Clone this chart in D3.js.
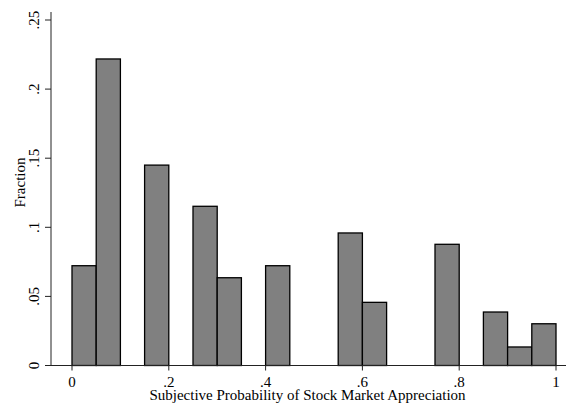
<!DOCTYPE html>
<html><head><meta charset="utf-8">
<script src="https://cdn.jsdelivr.net/npm/d3@7"></script>
<style>body{margin:0;background:#fff}svg{display:block}text{font-family:"Liberation Serif","Times New Roman",serif}</style>
</head><body>
<script>
const binStarts = [0, 0.05, 0.15, 0.25, 0.30, 0.40, 0.55, 0.60, 0.75, 0.85, 0.90, 0.95];
const fractions = [0.0722, 0.2218, 0.145, 0.1152, 0.0635, 0.0722, 0.0959, 0.0457, 0.0877, 0.0387, 0.0134, 0.0302];
const binWidth = 0.05;
const xTicks = [0, 0.2, 0.4, 0.6, 0.8, 1];
const xTickLabels = ["0", ".2", ".4", ".6", ".8", "1"];
const yTicks = [0, 0.05, 0.1, 0.15, 0.2, 0.25];
const yTickLabels = ["0", ".05", ".1", ".15", ".2", ".25"];

const W = 573, H = 405;
const svg = d3.select("body").append("svg").attr("width", W).attr("height", H);
const x = d3.scaleLinear().domain([0, 1]).range([72, 556]);
const y = d3.scaleLinear().domain([0, 0.25]).range([365.5, 20]);
const xAxisLeft = 51, xAxisRight = 566, yAxisTop = 12;

svg.append("g").selectAll("rect").data(binStarts).join("rect")
  .attr("x", (d) => x(d))
  .attr("width", (d) => x(d + binWidth) - x(d))
  .attr("y", (d, i) => y(fractions[i]))
  .attr("height", (d, i) => y(0) - y(fractions[i]))
  .attr("fill", "#808080").attr("stroke", "#000").attr("stroke-width", 1.3);

svg.append("line").attr("x1", xAxisLeft).attr("x2", xAxisRight).attr("y1", y(0)).attr("y2", y(0))
  .attr("stroke", "#222").attr("stroke-width", 1);
svg.append("line").attr("x1", xAxisLeft).attr("x2", xAxisLeft).attr("y1", yAxisTop).attr("y2", y(0))
  .attr("stroke", "#222").attr("stroke-width", 1);

const xg = svg.append("g");
xTicks.forEach((t, i) => {
  xg.append("line").attr("x1", x(t)).attr("x2", x(t)).attr("y1", y(0)).attr("y2", y(0) + 5).attr("stroke", "#222");
  xg.append("text").attr("x", x(t)).attr("y", 387).attr("text-anchor", "middle")
    .attr("font-size", 15).text(xTickLabels[i]);
});
const yg = svg.append("g");
yTicks.forEach((t, i) => {
  yg.append("line").attr("x1", xAxisLeft - 6).attr("x2", xAxisLeft).attr("y1", y(t)).attr("y2", y(t)).attr("stroke", "#222");
  yg.append("text").attr("transform", `translate(39,${y(t)}) rotate(-90)`).attr("text-anchor", "middle")
    .attr("font-size", 15).text(yTickLabels[i]);
});

svg.append("text").attr("transform", "translate(24.5,182.5) rotate(-90)").attr("text-anchor", "middle")
  .attr("font-size", 15).text("Fraction");
svg.append("text").attr("x", 307.5).attr("y", 400).attr("text-anchor", "middle")
  .attr("font-size", 15).text("Subjective Probability of Stock Market Appreciation");
</script>
</body></html>
